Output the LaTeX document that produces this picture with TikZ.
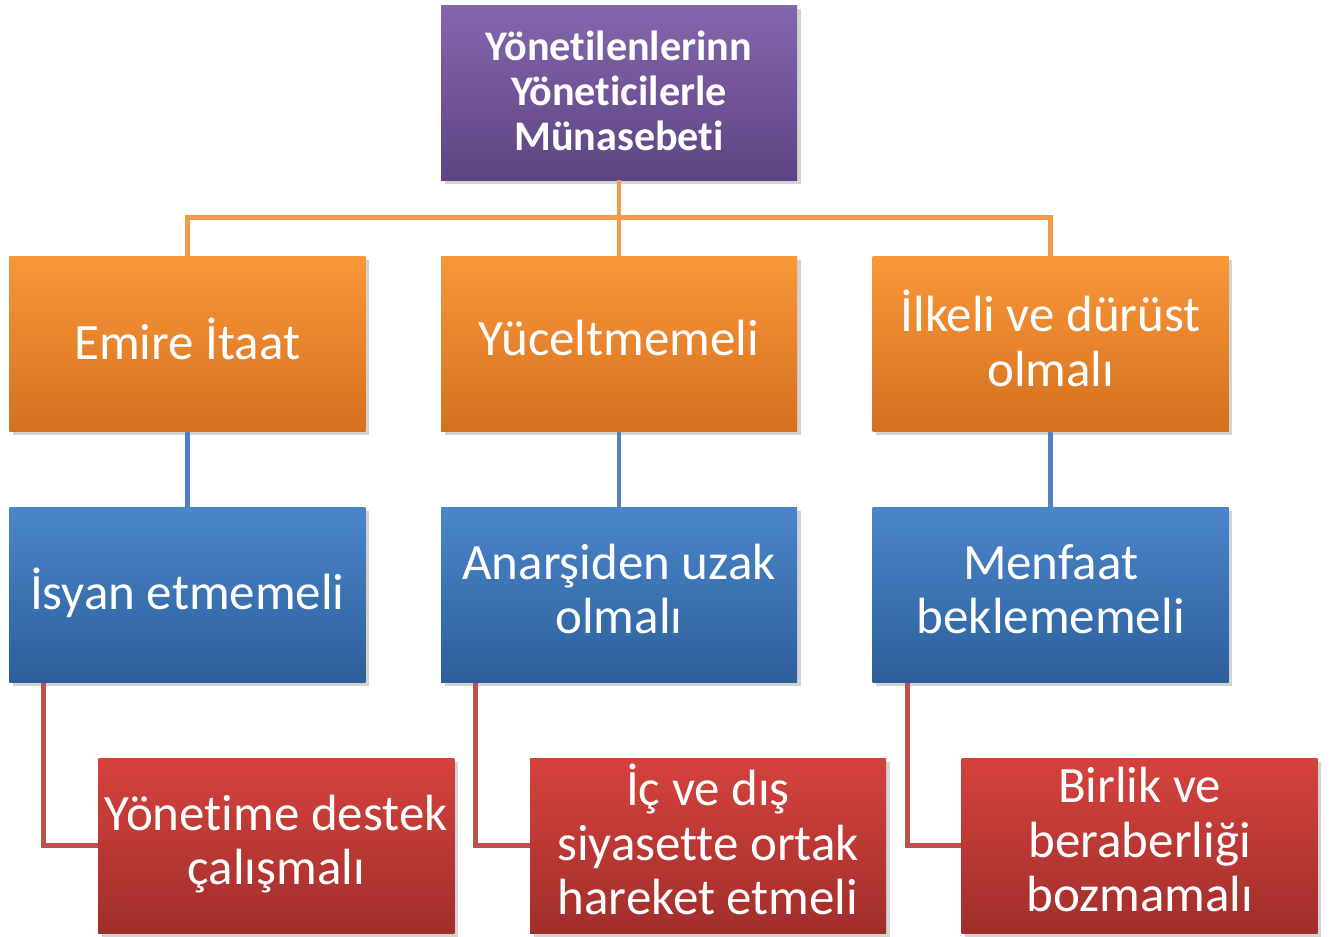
\documentclass[tikz,border=0pt]{standalone}
\usepackage{fontspec}
\setmainfont{Carlito}[Ligatures=NoCommon]
\usepackage{xcolor}
\usepackage{tikz}
\usetikzlibrary{positioning, shadows}

\definecolor{purpTop}{HTML}{8466AD}
\definecolor{purpBot}{HTML}{5E4482}
\definecolor{orTop}{HTML}{F9973A}
\definecolor{orBot}{HTML}{D4701F}
\definecolor{blTop}{HTML}{4A86C9}
\definecolor{blBot}{HTML}{2D5E9B}
\definecolor{rdTop}{HTML}{D5423D}
\definecolor{rdBot}{HTML}{A12E2B}
\definecolor{orLine}{HTML}{F59A4B}
\definecolor{blLine}{HTML}{4F81BD}
\definecolor{rdLine}{HTML}{C0504D}

\begin{document}
\begin{tikzpicture}[
    box/.style={rectangle, minimum width=7.12cm, minimum height=3.5cm,
        inner sep=0pt, align=center, text=white,
        drop shadow={opacity=0.35, shadow xshift=2pt, shadow yshift=-2pt}},
    body/.style={box, font=\fontsize{29}{31}\selectfont,
        execute at end node={\rule[-0.24cm]{0pt}{0pt}}},
    topbox/.style={box, top color=purpTop, bottom color=purpBot,
        execute at end node={\rule[-0.07cm]{0pt}{0pt}},
        font=\fontsize{24}{25.5}\selectfont\bfseries},
    orbox/.style={body, top color=orTop, bottom color=orBot},
    blbox/.style={body, top color=blTop, bottom color=blBot},
    rdbox/.style={body, top color=rdTop, bottom color=rdBot},
    link/.style={line width=2.8pt}
]

    % =================================================================
    % 1. KUTULAR
    % =================================================================
    \useasboundingbox (0,0) rectangle (26.72,-18.72);

    \node[topbox] (baslik) at (12.38,-1.85)
        {Yönetilenlerinn\\Yöneticilerle\\Münasebeti};

    % Turuncu satir
    \node[orbox, below=1.52cm of baslik] (itaat) {Yüceltmemeli};
    \node[orbox, left=1.5cm of itaat] (emir) {Emire İtaat};
    \node[orbox, right=1.5cm of itaat] (ilkeli) {İlkeli ve dürüst\\olmalı};

    % Mavi satir
    \node[blbox, below=1.5cm of emir] (isyan) {İsyan etmemeli};
    \node[blbox, below=1.5cm of itaat] (anarsi) {Anarşiden uzak\\olmalı};
    \node[blbox, below=1.5cm of ilkeli] (menfaat) {Menfaat\\beklememeli};

    % Kirmizi satir
    \node[rdbox, below=1.5cm of isyan, xshift=1.78cm] (destek)
        {Yönetime destek\\çalışmalı};
    \node[rdbox, below=1.5cm of anarsi, xshift=1.78cm] (ortak)
        {İç ve dış\\siyasette ortak\\hareket etmeli};
    \node[rdbox, below=1.5cm of menfaat, xshift=1.78cm] (birlik)
        {Birlik ve\\beraberliği\\bozmamalı};

    % =================================================================
    % 2. BAGLANTILAR
    % =================================================================
    \coordinate[below=0.74cm of baslik] (kol);
    \draw[link, orLine] (baslik) -- (kol);
    \draw[link, orLine] (emir) |- (kol) -| (ilkeli);
    \draw[link, orLine] (kol) -- (itaat);

    \draw[link, blLine] (emir) -- (isyan);
    \draw[link, blLine] (itaat) -- (anarsi);
    \draw[link, blLine] (ilkeli) -- (menfaat);

    \draw[link, rdLine] ([xshift=0.7cm]isyan.south west) |- (destek);
    \draw[link, rdLine] ([xshift=0.7cm]anarsi.south west) |- (ortak);
    \draw[link, rdLine] ([xshift=0.7cm]menfaat.south west) |- (birlik);

\end{tikzpicture}
\end{document}
